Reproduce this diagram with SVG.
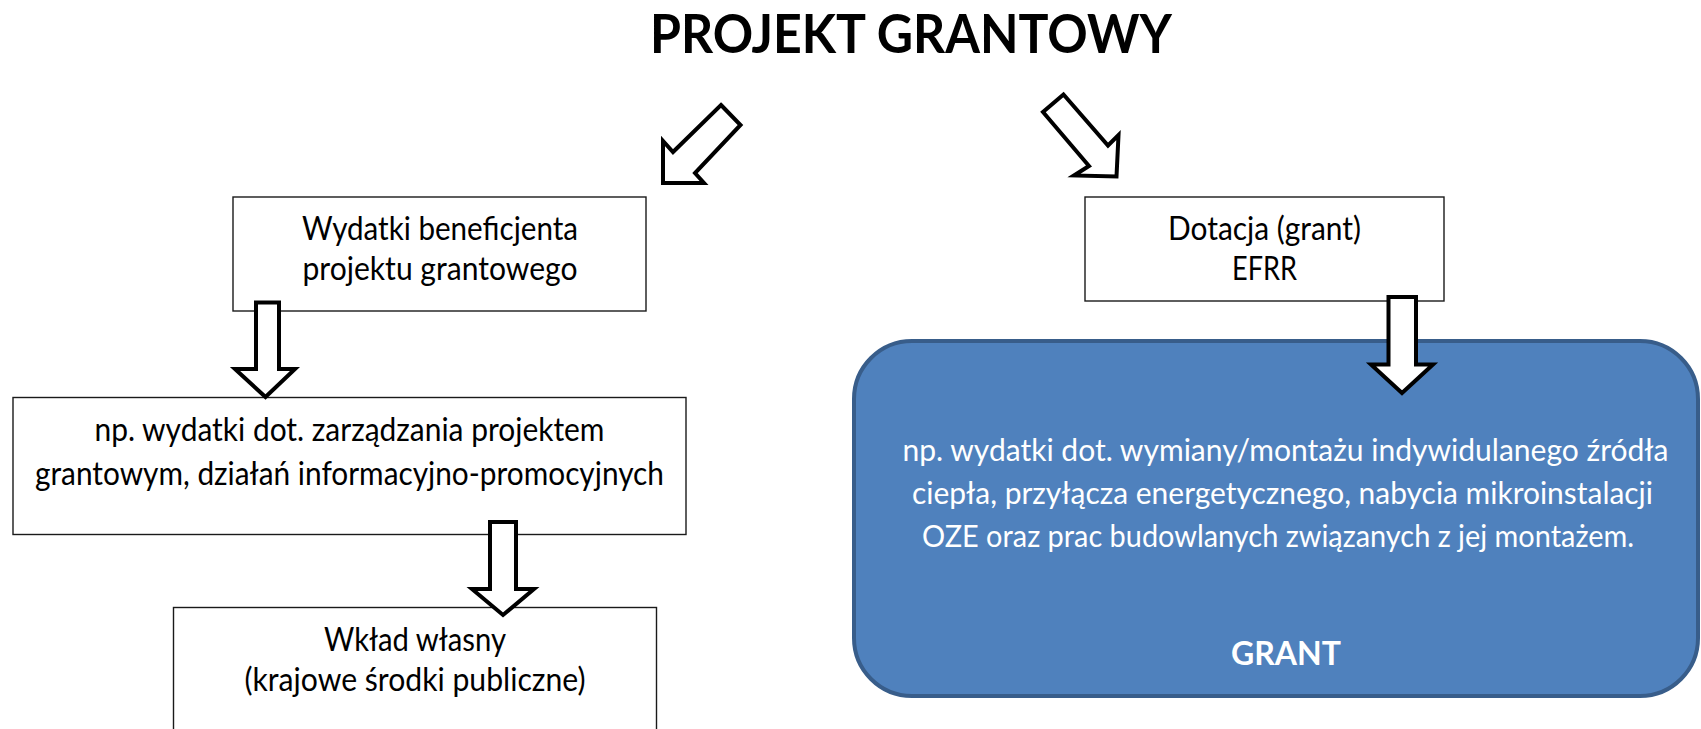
<svg xmlns="http://www.w3.org/2000/svg" width="1701" height="729" viewBox="0 0 1701 729">
<style>
.box{fill:#fff;stroke:#1a1a1a;stroke-width:1.4}
.t{font-family:Lato,"Open Sans","Liberation Sans",sans-serif;font-size:32px;fill:#000;text-anchor:middle}
.w{fill:#fff;font-size:30px}
.arr{fill:#fff;stroke:#000;stroke-width:4;stroke-linejoin:miter}
</style>
<rect width="1701" height="729" fill="#fff"/>
<text x="911" y="53" class="t" style="font-size:53px;font-weight:bold" textLength="522" lengthAdjust="spacingAndGlyphs">PROJEKT GRANTOWY</text>
<g id="n1"><rect class="box" x="233" y="197" width="413" height="114"/>
<text class="t" x="440" y="240" textLength="276" lengthAdjust="spacingAndGlyphs">Wydatki beneficjenta</text>
<text class="t" x="440" y="280" textLength="275" lengthAdjust="spacingAndGlyphs">projektu grantowego</text></g>
<g id="n2"><rect class="box" x="13" y="397.5" width="673" height="137"/>
<text class="t" x="349.5" y="441" textLength="510" lengthAdjust="spacingAndGlyphs">np. wydatki dot. zarządzania projektem</text>
<text class="t" x="349.5" y="485" textLength="629" lengthAdjust="spacingAndGlyphs">grantowym, działań informacyjno-promocyjnych</text></g>
<g id="n3"><rect class="box" x="173.5" y="607.5" width="483" height="140"/>
<text class="t" x="415" y="651" textLength="182" lengthAdjust="spacingAndGlyphs">Wkład własny</text>
<text class="t" x="415" y="691" textLength="341" lengthAdjust="spacingAndGlyphs">(krajowe środki publiczne)</text></g>
<g id="n4"><rect class="box" x="1085" y="197" width="359" height="104"/>
<text class="t" x="1264.5" y="240" textLength="193" lengthAdjust="spacingAndGlyphs">Dotacja (grant)</text>
<text class="t" x="1264.5" y="280" textLength="65" lengthAdjust="spacingAndGlyphs">EFRR</text></g>
<g id="n5"><rect x="854" y="341" width="844" height="355" rx="58" ry="58" fill="#4f81bd" stroke="#385d8a" stroke-width="4"/>
<text class="t w" x="1285.5" y="461" textLength="766" lengthAdjust="spacingAndGlyphs">np. wydatki dot. wymiany/montażu indywidulanego źródła</text>
<text class="t w" x="1282.5" y="504" textLength="741" lengthAdjust="spacingAndGlyphs">ciepła, przyłącza energetycznego, nabycia mikroinstalacji</text>
<text class="t w" x="1278" y="547" textLength="712" lengthAdjust="spacingAndGlyphs">OZE oraz prac budowlanych związanych z jej montażem.</text>
<text class="t w" x="1286" y="665" style="font-weight:bold;font-size:32px" textLength="110" lengthAdjust="spacingAndGlyphs">GRANT</text></g>
<g id="connectors">
<path class="arr" d="M721,105 L740.5,125 L695,173 L704,183 L663,183 L663,141 L673,152 Z"/>
<path class="arr" d="M1063.5,94.5 L1043,112 L1089,166 L1074,175.5 L1116.5,176.5 L1118.5,135 L1108,145.5 Z"/>
<path class="arr" d="M256,302.5 H279 V369 H295 L265.5,397 L235,369 H256 Z"/>
<path class="arr" d="M490,522 H516 V589 H534 L503,615 L472,589 H490 Z"/>
<path class="arr" d="M1388.5,297 H1416 V364.5 H1433 L1402,393 L1371,364.5 H1388.5 Z"/>
</g>
</svg>
